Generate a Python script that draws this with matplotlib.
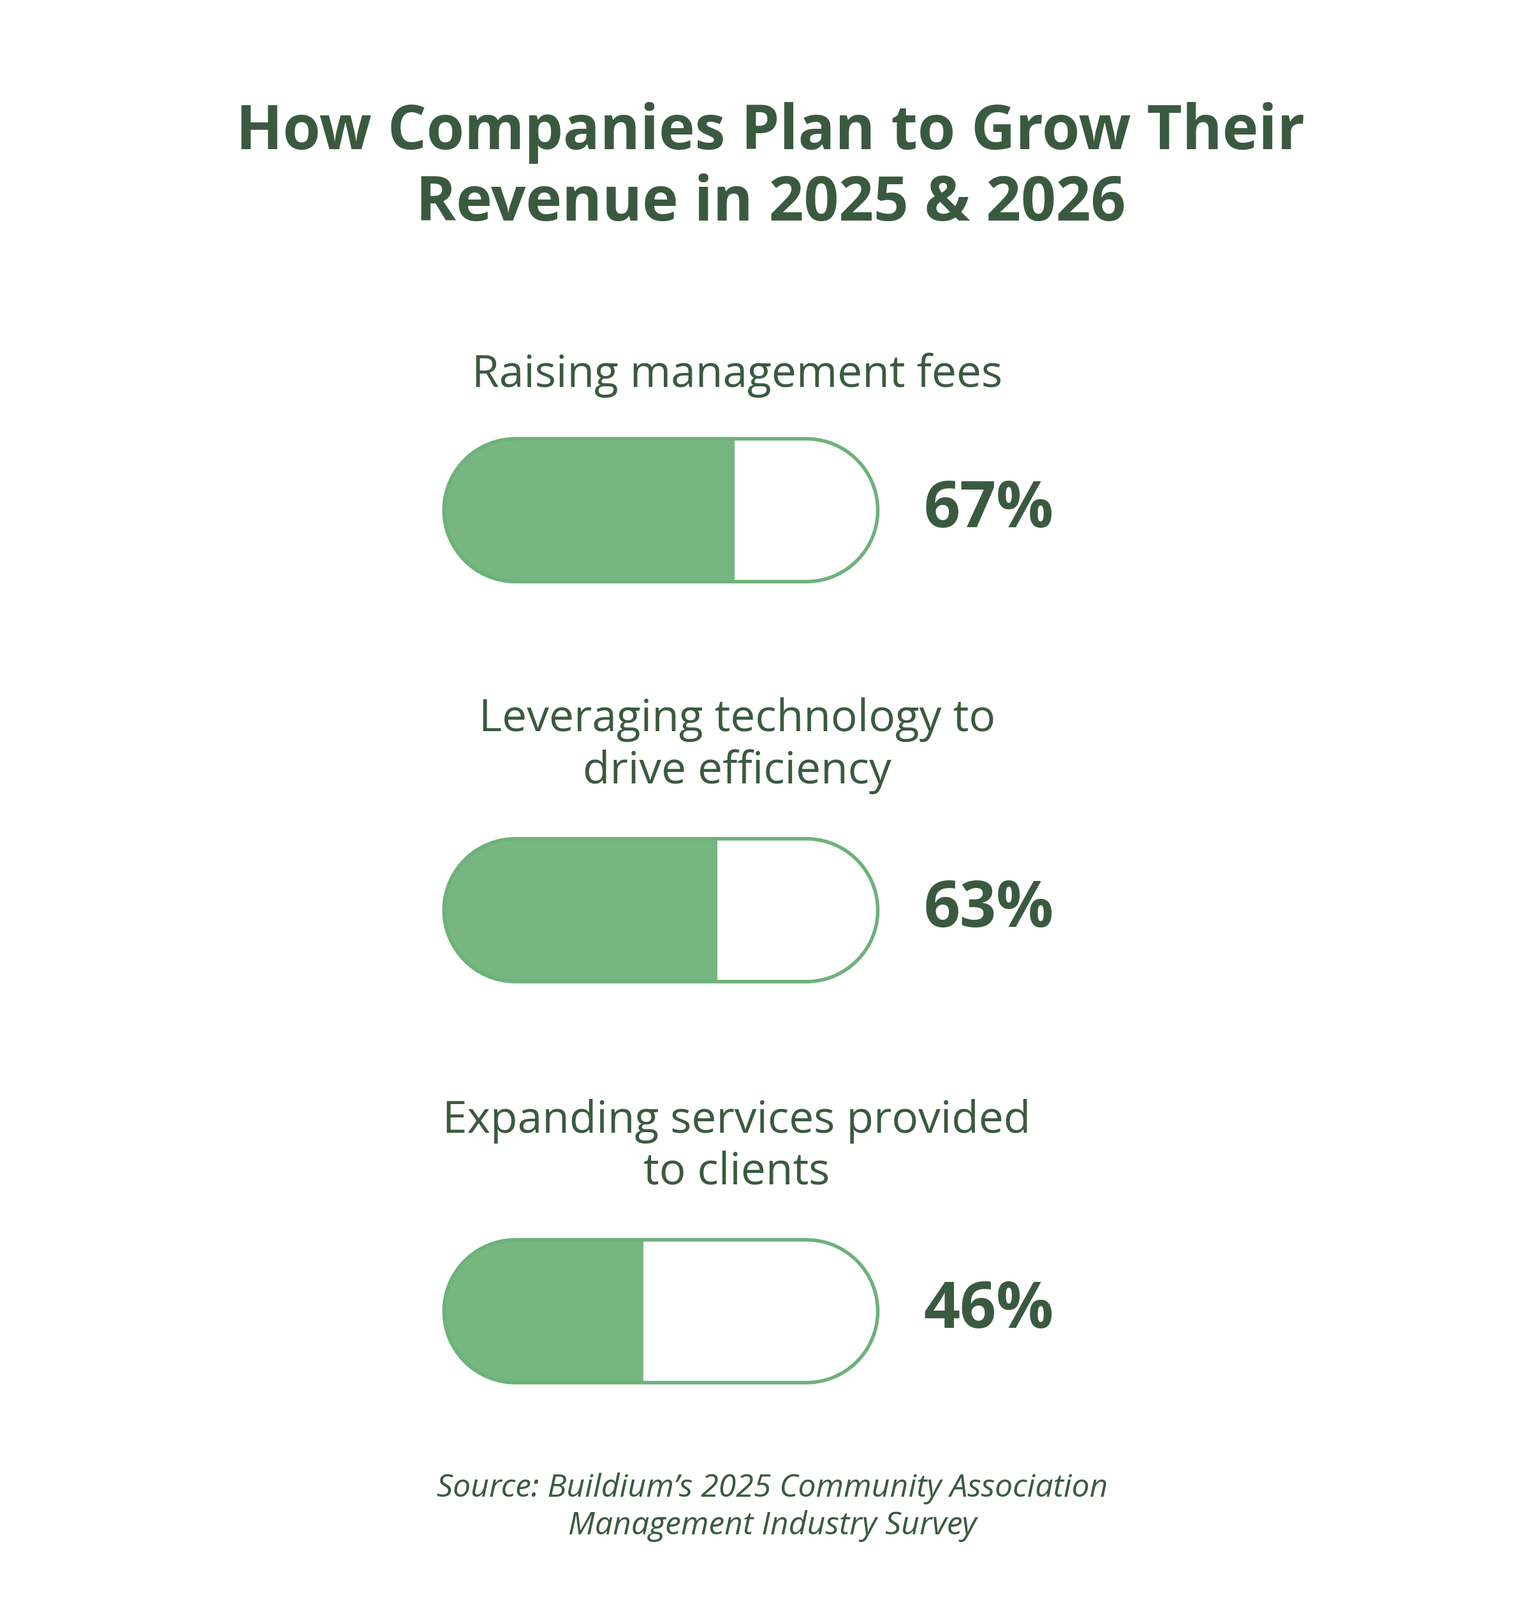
import matplotlib
matplotlib.use("Agg")
import matplotlib.pyplot as plt
import numpy as np
from matplotlib.patches import PathPatch, Rectangle
from matplotlib.path import Path

categories = ["Raising management fees", "Leveraging technology to\ndrive efficiency", "Expanding services provided\nto clients"]
values = [67, 63, 46]
value_labels = ["67%", "63%", "46%"]

DARK = "#3A5A40"
FILL = "#75B681"
EDGE = "#6DB27A"
FONT = "Open Sans"

fig = plt.figure(figsize=(24.01, 25.10), dpi=100)
ax = fig.add_axes([0, 0, 1, 1])
ax.set_xlim(0, 1500)
ax.set_ylim(1568, 0)
ax.axis("off")

ax.text(755, 165, "How Companies Plan to Grow Their\nRevenue in 2025 & 2026", ha="center", va="center",
        fontsize=69, fontweight="bold", color=DARK, family=FONT, linespacing=1.2)


def pill_path(x0, y0, w, h):
    r = h / 2
    t1 = np.linspace(np.pi / 2, 3 * np.pi / 2, 60)
    t2 = np.linspace(-np.pi / 2, np.pi / 2, 60)
    cy = y0 + r
    left = np.column_stack([x0 + r + r * np.cos(t1), cy - r * np.sin(t1)])
    right = np.column_stack([x0 + w - r + r * np.cos(t2), cy - r * np.sin(t2)])
    pts = np.vstack([left, right[::-1][::-1], left[:1]])
    codes = [Path.MOVETO] + [Path.LINETO] * (len(pts) - 2) + [Path.CLOSEPOLY]
    return Path(pts, codes)


label_y = [368, 731, 1124]
bar_top = [430, 822, 1215]
x0, w, h = 435, 425, 140
for cat, v, vl, ly, bt in zip(categories, values, value_labels, label_y, bar_top):
    ax.text(722, ly, cat, ha="center", va="center", fontsize=50, color=DARK, family=FONT, linespacing=1.2)
    p = pill_path(x0, bt, w, h)
    bg = PathPatch(p, facecolor="white", edgecolor="none", zorder=2)
    ax.add_patch(bg)
    r = Rectangle((x0, bt), w * v / 100, h, facecolor=FILL, edgecolor="none", zorder=3)
    ax.add_patch(r)
    r.set_clip_path(bg)
    ax.add_patch(PathPatch(p, facecolor="none", edgecolor=EDGE, linewidth=4, zorder=4))
    ax.text(905, bt + h/2, vl, ha="left", va="center", fontsize=72, fontweight="bold", color=DARK, family=FONT)

ax.text(757, 1477, "Source: Buildium’s 2025 Community Association\nManagement Industry Survey", ha="center", va="center",
        fontsize=36, style="italic", color=DARK, family=FONT, linespacing=1.25)

fig.savefig("out.png", dpi=100, facecolor="white")
